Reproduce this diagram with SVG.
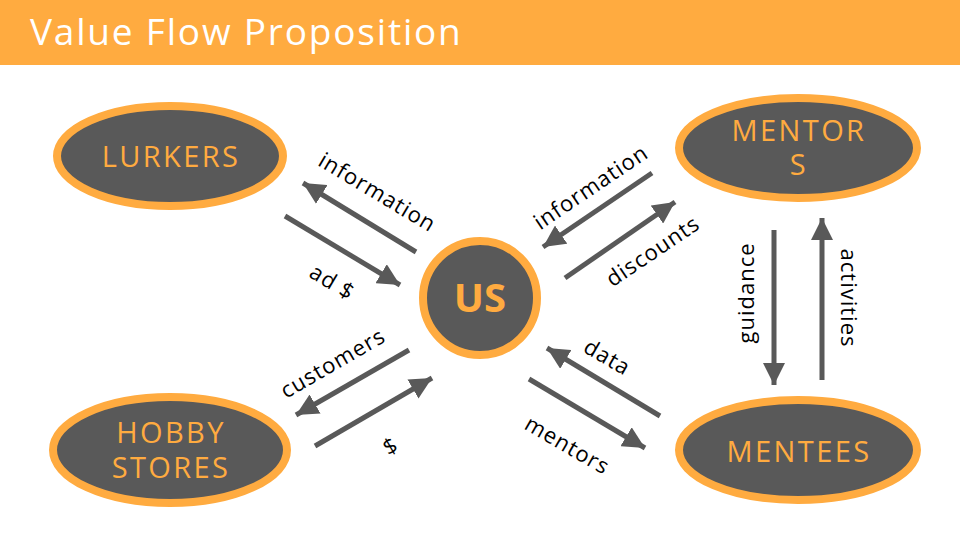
<svg xmlns="http://www.w3.org/2000/svg" width="960" height="540" viewBox="0 0 960 540">
<style>
.node{fill:#595959;stroke:#FFAB40;stroke-width:8}
.nt{font-family:"Open Sans","Liberation Sans",sans-serif;font-size:29px;letter-spacing:2.4px;fill:#FFAB40;text-anchor:middle}
.lbl{font-family:"Open Sans","Liberation Sans",sans-serif;font-size:22px;letter-spacing:1px;fill:#000;text-anchor:middle;dominant-baseline:central}
.ar{stroke:#595959;stroke-width:5;fill:none;marker-end:url(#ah)}
</style>
<defs>
<marker id="ah" markerUnits="userSpaceOnUse" markerWidth="24" markerHeight="22" refX="22" refY="11" orient="auto">
<path d="M0,0 L22,11 L0,22 Z" fill="#595959"/>
</marker>
</defs>
<rect x="0" y="0" width="960" height="65" fill="#FFAB40"/>
<text x="30" y="45" font-family="'Open Sans','Liberation Sans',sans-serif" font-size="37" letter-spacing="1.8" fill="#fff">Value Flow Proposition</text>

<g id="lurkers"><ellipse class="node" cx="170" cy="156" rx="113" ry="50"/><text class="nt" x="171" y="167">LURKERS</text></g>
<g id="mentors"><ellipse class="node" cx="798" cy="148" rx="119" ry="50"/><text class="nt" x="799" y="141">MENTOR</text><text class="nt" x="799" y="175">S</text></g>
<g id="hobby"><ellipse class="node" cx="170" cy="450" rx="117" ry="53"/><text class="nt" x="171" y="443">HOBBY</text><text class="nt" x="171" y="478">STORES</text></g>
<g id="mentees"><ellipse class="node" cx="798" cy="450" rx="119" ry="50"/><text class="nt" x="799" y="462">MENTEES</text></g>
<g id="us"><circle class="node" cx="480" cy="298" r="57"/><text x="480" y="312" text-anchor="middle" font-family="'Open Sans','Liberation Sans',sans-serif" font-weight="bold" font-size="40" fill="#FFAB40">US</text></g>

<g id="connectors">
<line class="ar" x1="416" y1="252" x2="303" y2="183"/>
<line class="ar" x1="285" y1="216" x2="400" y2="285"/>
<line class="ar" x1="652" y1="173" x2="543" y2="247"/>
<line class="ar" x1="565" y1="278" x2="675" y2="202"/>
<line class="ar" x1="774" y1="230" x2="774" y2="385"/>
<line class="ar" x1="822" y1="380" x2="822" y2="218"/>
<line class="ar" x1="409" y1="350" x2="296" y2="415"/>
<line class="ar" x1="315" y1="446" x2="432" y2="378"/>
<line class="ar" x1="660" y1="416" x2="547" y2="348"/>
<line class="ar" x1="529" y1="379" x2="645" y2="448"/>
</g>

<g id="labels">
<text class="lbl" transform="translate(378,191) rotate(31)">information</text>
<text class="lbl" transform="translate(333,281) rotate(31)">ad $</text>
<text class="lbl" transform="translate(590,186) rotate(-34)">information</text>
<text class="lbl" transform="translate(652,250) rotate(-34)">discounts</text>
<text class="lbl" transform="translate(745,293) rotate(-90)">guidance</text>
<text class="lbl" transform="translate(850,298) rotate(90)">activities</text>
<text class="lbl" transform="translate(332,362) rotate(-30)">customers</text>
<text class="lbl" transform="translate(390,445) rotate(-30)">$</text>
<text class="lbl" transform="translate(608,356) rotate(30)">data</text>
<text class="lbl" transform="translate(568,444) rotate(30)">mentors</text>
</g>
</svg>
